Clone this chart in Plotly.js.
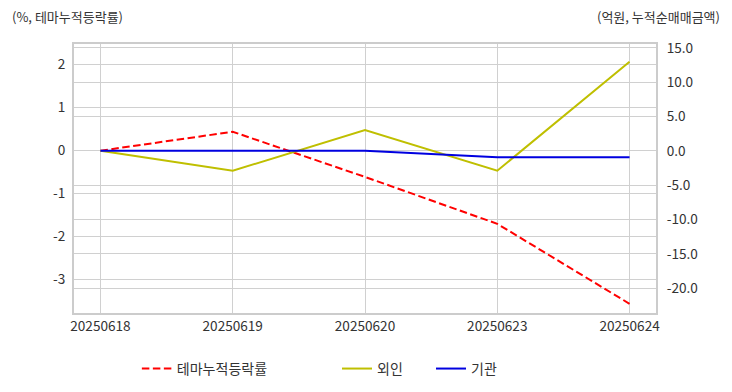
<!DOCTYPE html>
<html><head><meta charset="utf-8">
<script src="https://cdn.plot.ly/plotly-3.0.1.min.js"></script>
<style>html,body{margin:0;padding:0;background:#fff}#chart{width:732px;height:392px}</style>
</head><body><div id="chart"></div>
<script>
const dates = ['20250618','20250619','20250620','20250623','20250624'];
const themeRate = [0, 0.44, -0.61, -1.70, -3.56];
const foreign = [0, -2.9, 3.05, -2.9, 13.0];
const institution = [0, 0, 0, -0.93, -0.93];
const leftTickVals = [-3,-2,-1,0,1,2];
const leftTickText = ['-3','-2','-1','0','1','2'];
const rightTickVals = [-20,-15,-10,-5,0,5,10,15];
const rightTickText = ['-20.0','-15.0','-10.0','-5.0','0.0','5.0','10.0','15.0'];

const FONT = '"Noto Sans CJK KR", "Noto Sans", sans-serif';
const traces = [
  {x: dates, y: themeRate, name: '테마누적등락률', type: 'scatter', mode: 'lines', yaxis: 'y',
   line: {color: '#ff0000', width: 2, dash: '7.5px,3.5px'}, legend: 'legend'},
  {x: dates, y: foreign, name: '외인', type: 'scatter', mode: 'lines', yaxis: 'y2',
   line: {color: '#bfbf00', width: 2}, legend: 'legend2'},
  {x: dates, y: institution, name: '기관', type: 'scatter', mode: 'lines', yaxis: 'y2',
   line: {color: '#0000e0', width: 2}, legend: 'legend3'}
];
const legendBase = {orientation: 'h', xanchor: 'left', y: -0.208, yanchor: 'middle',
  font: {size: 14, color: '#333'}, bgcolor: 'rgba(0,0,0,0)'};
const layout = {
  width: 732, height: 392,
  margin: {l: 74, r: 76, t: 44, b: 79, autoexpand: false},
  paper_bgcolor: '#fff', plot_bgcolor: '#fff',
  font: {family: FONT, size: 12, color: '#333'},
  showlegend: true,
  xaxis: {type: 'category', range: [-0.2, 4.2], showgrid: true, gridcolor: '#d0d0d0', gridwidth: 1,
    showline: true, mirror: true, linecolor: '#cccccc', linewidth: 2, ticks: '',
    tickfont: {size: 13.6, color: '#333'}, zeroline: false, fixedrange: true},
  yaxis: {range: [-3.774, 2.481], tickvals: leftTickVals, ticktext: leftTickText,
    showgrid: true, gridcolor: '#d0d0d0', gridwidth: 1, zeroline: false,
    showline: true, linecolor: '#cccccc', linewidth: 2, ticks: '', ticklabelstandoff: 4,
    tickfont: {size: 13.6, color: '#333'}},
  yaxis2: {overlaying: 'y', side: 'right', range: [-23.64, 15.58], tickvals: rightTickVals, ticktext: rightTickText,
    showgrid: true, gridcolor: '#d0d0d0', gridwidth: 1, zeroline: false,
    showline: true, linecolor: '#cccccc', linewidth: 2, ticks: '', ticklabelstandoff: 6,
    tickfont: {size: 13.6, color: '#333'}},
  legend: Object.assign({}, legendBase, {x: 0.108}),
  legend2: Object.assign({}, legendBase, {x: 0.4519}),
  legend3: Object.assign({}, legendBase, {x: 0.6134}),
  annotations: [
    {text: '(%, 테마누적등락률)', xref: 'paper', yref: 'paper', x: -64/582, y: 1 + 28/269, xanchor: 'left', yanchor: 'middle', showarrow: false, font: {size: 13, color: '#333'}},
    {text: '(억원, 누적순매매금액)', xref: 'paper', yref: 'paper', x: 1 + 66/582, y: 1 + 28/269, xanchor: 'right', yanchor: 'middle', showarrow: false, font: {size: 13, color: '#333'}}
  ]
};
Plotly.newPlot('chart', traces, layout, {displayModeBar: false, staticPlot: true});
</script></body></html>
